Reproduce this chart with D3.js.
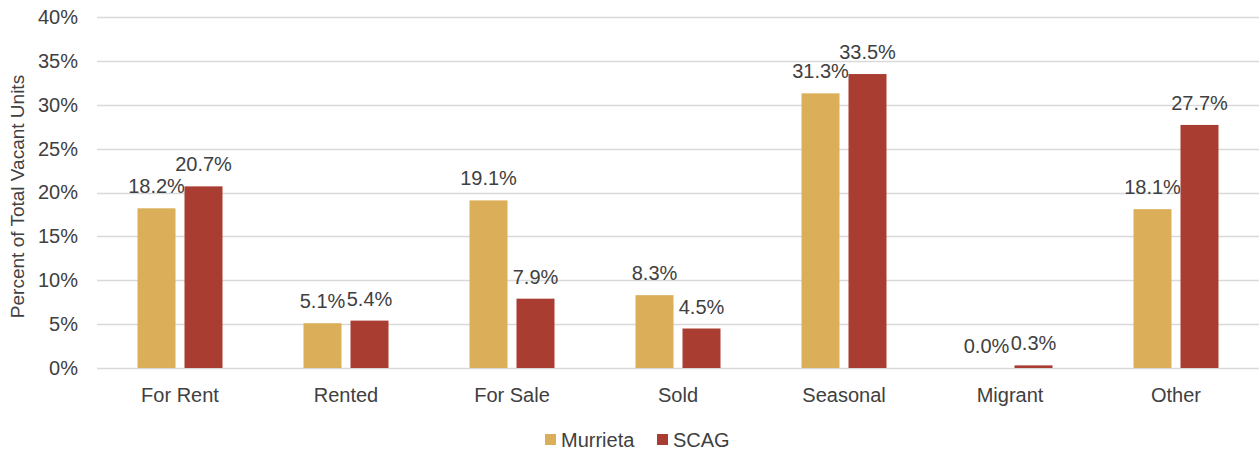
<!DOCTYPE html>
<html><head><meta charset="utf-8">
<script src="https://cdn.jsdelivr.net/npm/d3@7"></script>
<style>body{margin:0;background:#fff}svg{display:block}text{font-family:"Liberation Sans",Arial,sans-serif;fill:#404040}</style>
</head><body><svg id="c" width="1260" height="453"></svg>
<script>
const categories = ["For Rent","Rented","For Sale","Sold","Seasonal","Migrant","Other"];
const seriesNames = ["Murrieta","SCAG"];
const murrieta = [18.2,5.1,19.1,8.3,31.3,0.0,18.1];
const scag = [20.7,5.4,7.9,4.5,33.5,0.3,27.7];
const yTicks = [0,5,10,15,20,25,30,35,40];
const colors = ["#DBAE59","#A93D31"];

const svg = d3.select("#c");
const m = {l:97, r:1259, t:17, b:368};
const x = d3.scaleBand().domain(categories).range([m.l,m.r]).paddingInner(0).paddingOuter(0);
const y = d3.scaleLinear().domain([0,40]).range([m.b,m.t]);
const xs = d3.scaleBand().domain(seriesNames).range([0,85]).paddingInner(9/47);

// grid
svg.append("g").selectAll("line").data(yTicks).join("line")
  .attr("x1",m.l).attr("x2",m.r).attr("y1",d=>Math.round(y(d))+0.5).attr("y2",d=>Math.round(y(d))+0.5)
  .attr("stroke","#D9D9D9").attr("stroke-width",1.5);

// y axis labels
const yAxis = d3.axisLeft(y).tickValues(yTicks).tickFormat(d=>d+"%").tickSize(0).tickPadding(0);
const ga = svg.append("g").attr("transform",`translate(78,0)`).call(yAxis);
ga.select(".domain").remove();
ga.selectAll("text").attr("font-size",20).attr("fill","#404040").attr("font-family",null);

// x axis labels
const xAxis = d3.axisBottom(x).tickSize(0).tickPadding(0);
const gx = svg.append("g").attr("transform",`translate(0,${m.b+20})`).call(xAxis);
gx.select(".domain").remove();
gx.selectAll("text").attr("font-size",20).attr("fill","#404040").attr("font-family",null);

const data = [murrieta, scag];
data.forEach((vals,si)=>{
  const g = svg.append("g");
  const off = (x.bandwidth()-85)/2 + xs(seriesNames[si]);
  g.selectAll("rect").data(vals).join("rect")
    .attr("x",(d,i)=>x(categories[i])+off)
    .attr("width",xs.bandwidth())
    .attr("y",d=>y(d))
    .attr("height",d=>y(0)-y(d))
    .attr("fill",colors[si]);
  g.selectAll("text").data(vals).join("text")
    .attr("x",(d,i)=>x(categories[i])+off+xs.bandwidth()/2)
    .attr("y",d=>y(d)-15)
    .attr("text-anchor","middle")
    .attr("font-size",20)
    .text(d=>d.toFixed(1)+"%");
});

// y title
svg.append("text").attr("transform",`translate(24,${(m.t+m.b)/2+4}) rotate(-90)`)
  .attr("text-anchor","middle").attr("font-size",19).text("Percent of Total Vacant Units");

// legend
const legX = [545,657];
seriesNames.forEach((s,i)=>{
  svg.append("rect").attr("x",legX[i]).attr("y",434).attr("width",11).attr("height",11).attr("fill",colors[i]);
  svg.append("text").attr("x",legX[i]+16).attr("y",447).attr("font-size",20).text(s);
});
</script></body></html>
